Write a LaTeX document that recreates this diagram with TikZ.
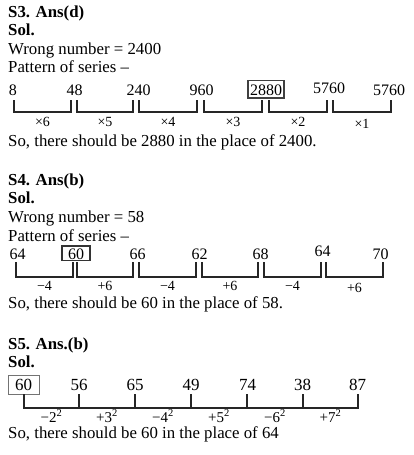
\documentclass[tikz,border=0pt]{standalone}
\usepackage{fontspec}
\setmainfont{Liberation Serif}
\usetikzlibrary{calc}
\tikzstyle{txt}=[anchor=base west, inner sep=0pt, font=\fontsize{16.8}{20}\selectfont]
\tikzstyle{head}=[txt, font=\fontsize{16.8}{20}\selectfont\bfseries]
\tikzstyle{num}=[anchor=base, inner sep=0pt, font=\fontsize{16}{19}\selectfont]
\tikzstyle{lbl}=[anchor=base, inner sep=0pt, font=\fontsize{14}{16}\selectfont]
\tikzstyle{brk}=[line width=1.9pt, draw=black!85]
\tikzstyle{boxed}=[draw, text height=11.5pt, text depth=0pt]

\begin{document}
\begin{tikzpicture}[x=1pt, y=-1pt]
\useasboundingbox (0,0) rectangle (413,455);
% S3
\node[head] (H3) at (8,17) {S3. Ans(d)};
\node[head] (Sol3) at (8,35) {Sol.};
\node[txt] (W3) at (8,54) {Wrong number = 2400};
\node[txt] (P3) at (8,72) {Pattern of series –};
\node[num] (N31) at (13,95) {8};
\node[num] (N32) at (74.5,95) {48};
\node[num] (N33) at (138.5,95) {240};
\node[num] (N34) at (201.5,95) {960};
\node[num, boxed, inner xsep=2pt, inner ysep=3pt, line width=1.5pt, draw=black!75] (N35) at (266,95) {2880};
\node[num] (N36) at (329,93) {5760};
\node[num] (N37) at (389,95) {5760};
\coordinate (a31) at (14,100);
\coordinate (b31) at (71,100);
\coordinate (a32) at (77,100);
\coordinate (b32) at (133,100);
\coordinate (a33) at (139,100);
\coordinate (b33) at (197,100);
\coordinate (a34) at (204,100);
\coordinate (b34) at (262,100);
\coordinate (a35) at (269,100);
\coordinate (b35) at (327,100);
\coordinate (a36) at (333,100);
\coordinate (b36) at (391,100);
\draw[brk] (a31) -- ++(0,12) -| (b31);
\draw[brk] (a32) -- ++(0,12) -| (b32);
\draw[brk] (a33) -- ++(0,12) -| (b33);
\draw[brk] (a34) -- ++(0,12) -| (b34);
\draw[brk] (a35) -- ++(0,12) -| (b35);
\draw[brk] (a36) -- ++(0,12) -| (b36);
\node[lbl] (L31) at ($(a31)!0.5!(b31)+(0,26)$) {×6};
\node[lbl] (L32) at ($(a32)!0.5!(b32)+(0,26)$) {×5};
\node[lbl] (L33) at ($(a33)!0.5!(b33)+(0,26)$) {×4};
\node[lbl] (L34) at ($(a34)!0.5!(b34)+(0,26)$) {×3};
\node[lbl] (L35) at ($(a35)!0.5!(b35)+(0,26)$) {×2};
\node[lbl] (L36) at ($(a36)!0.5!(b36)+(0,28)$) {×1};
\node[txt] (F3) at (8,146.5) {So, there should be 2880 in the place of 2400.};
% S4
\node[head] (H4) at (8,185) {S4. Ans(b)};
\node[head] (Sol4) at (8,203) {Sol.};
\node[txt] (W4) at (8,222) {Wrong number = 58};
\node[txt] (P4) at (8,241) {Pattern of series –};
\node[num] (N41) at (17.5,259) {64};
\node[num, boxed, inner xsep=6pt, inner ysep=1.5pt, line width=1.3pt, draw=black!80] (N42) at (76,259) {60};
\node[num] (N43) at (137.5,259) {66};
\node[num] (N44) at (199.5,259) {62};
\node[num] (N45) at (260.5,259) {68};
\node[num] (N46) at (322.5,256.5) {64};
\node[num] (N47) at (380.5,259) {70};
\coordinate (a41) at (16,262);
\coordinate (b41) at (73,262);
\coordinate (a42) at (77,262);
\coordinate (b42) at (133,262);
\coordinate (a43) at (139,262);
\coordinate (b43) at (196,262);
\coordinate (a44) at (202,262);
\coordinate (b44) at (258,262);
\coordinate (a45) at (264,262);
\coordinate (b45) at (321,262);
\coordinate (a46) at (326,262);
\coordinate (b46) at (383,262);
\draw[brk] (a41) -- ++(0,15) -| (b41);
\draw[brk] (a42) -- ++(0,15) -| (b42);
\draw[brk] (a43) -- ++(0,15) -| (b43);
\draw[brk] (a44) -- ++(0,15) -| (b44);
\draw[brk] (a45) -- ++(0,15) -| (b45);
\draw[brk] (a46) -- ++(0,15) -| (b46);
\node[lbl] (L41) at ($(a41)!0.5!(b41)+(0,28)$) {−4};
\node[lbl] (L42) at ($(a42)!0.5!(b42)+(0,28)$) {+6};
\node[lbl] (L43) at ($(a43)!0.5!(b43)+(0,28)$) {−4};
\node[lbl] (L44) at ($(a44)!0.5!(b44)+(0,28)$) {+6};
\node[lbl] (L45) at ($(a45)!0.5!(b45)+(0,28)$) {−4};
\node[lbl] (L46) at ($(a46)!0.5!(b46)+(0,30)$) {+6};
\node[txt] (F4) at (8,308) {So, there should be 60 in the place of 58.};
% S5
\node[head] (H5) at (8,349) {S5. Ans.(b)};
\node[head] (Sol5) at (8,367) {Sol.};
\node[num, boxed, font=\fontsize{17}{20}\selectfont, text height=12pt, text depth=1pt, inner xsep=7pt, inner ysep=3pt, line width=0.8pt, draw=black!55] (N51) at (23.5,390) {60};
\node[num, font=\fontsize{17}{20}\selectfont] (N52) at (79,390) {56};
\node[num, font=\fontsize{17}{20}\selectfont] (N53) at (135,390) {65};
\node[num, font=\fontsize{17}{20}\selectfont] (N54) at (191,390) {49};
\node[num, font=\fontsize{17}{20}\selectfont] (N55) at (247.5,390) {74};
\node[num, font=\fontsize{17}{20}\selectfont] (N56) at (302.5,390) {38};
\node[num, font=\fontsize{17}{20}\selectfont] (N57) at (357.5,390) {87};
\coordinate (u1) at (24,408);
\coordinate (u2) at (79,408);
\coordinate (u3) at (135,408);
\coordinate (u4) at (191,408);
\coordinate (u5) at (247,408);
\coordinate (u6) at (303,408);
\coordinate (u7) at (358,408);
\draw[brk] (N51.south -| u1) -- (u1) -- (u7) -- ++(0,-14);
\draw[brk] (u2) -- ++(0,-14);
\draw[brk] (u3) -- ++(0,-14);
\draw[brk] (u4) -- ++(0,-14);
\draw[brk] (u5) -- ++(0,-14);
\draw[brk] (u6) -- ++(0,-14);
\node[lbl, font=\fontsize{15}{17}\selectfont] (L51) at ($(u1)!0.5!(u2)+(0,14)$) {−2\textsuperscript{2}};
\node[lbl, font=\fontsize{15}{17}\selectfont] (L52) at ($(u2)!0.5!(u3)+(0,14)$) {+3\textsuperscript{2}};
\node[lbl, font=\fontsize{15}{17}\selectfont] (L53) at ($(u3)!0.5!(u4)+(0,14)$) {−4\textsuperscript{2}};
\node[lbl, font=\fontsize{15}{17}\selectfont] (L54) at ($(u4)!0.5!(u5)+(0,14)$) {+5\textsuperscript{2}};
\node[lbl, font=\fontsize{15}{17}\selectfont] (L55) at ($(u5)!0.5!(u6)+(0,14)$) {−6\textsuperscript{2}};
\node[lbl, font=\fontsize{15}{17}\selectfont] (L56) at ($(u6)!0.5!(u7)+(0,14)$) {+7\textsuperscript{2}};
\node[txt] (F5) at (8,438) {So, there should be 60 in the place of 64};
\end{tikzpicture}
\end{document}
